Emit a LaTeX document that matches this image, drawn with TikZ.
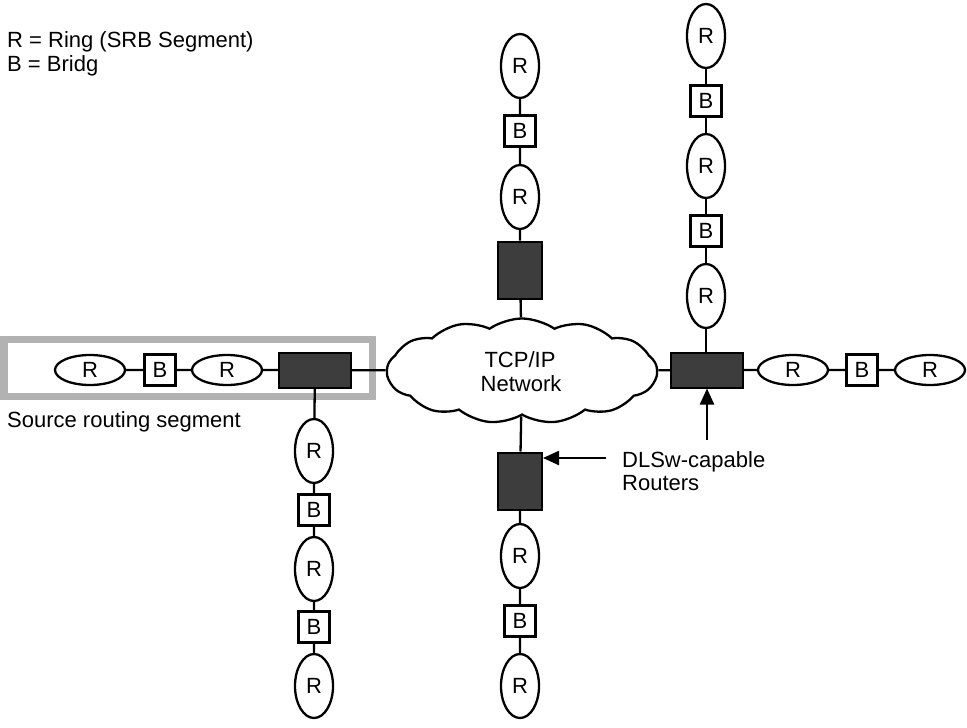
\documentclass[tikz,border=0pt]{standalone}
\usepackage{fontspec}
\setmainfont{Liberation Sans}
\usetikzlibrary{shapes.geometric,shapes.symbols,arrows.meta}
\begin{document}
\begin{tikzpicture}[x=1pt,y=-1pt,
  every node/.style={font=\fontsize{22}{25}\selectfont},
  vring/.style={ellipse,draw,line width=2.3pt,minimum width=38pt,minimum height=64pt,inner sep=0pt},
  hring/.style={ellipse,draw,line width=2.3pt,minimum width=70pt,minimum height=30pt,inner sep=0pt},
  bridge/.style={rectangle,draw,line width=2.3pt,minimum width=31pt,minimum height=31pt,inner sep=0pt},
  hrouter/.style={rectangle,draw,line width=2pt,fill=black!76,minimum width=72pt,minimum height=35pt,inner sep=0pt},
  vrouter/.style={rectangle,draw,line width=2pt,fill=black!76,minimum width=44pt,minimum height=57pt,inner sep=0pt},
  link/.style={line width=2.3pt},
  pointer/.style={line width=2.3pt,-{Triangle[length=16pt,width=14pt]}},
  label/.style={anchor=base west,inner sep=0pt}]
\useasboundingbox (0,0) rectangle (967,728);

% legend
\node[label] (leg1) at (7,47) {R = Ring (SRB Segment)};
\node[label] (leg2) at (7,71) {B = Bridg};

% source routing segment frame
\node[draw=gray!60,line width=7pt,minimum width=368pt,minimum height=57pt,inner sep=0pt] (frame) at (188,367.5) {};
\node[label] (srs) at (7,427) {Source routing segment};

% cloud
\node[cloud,draw,line width=2.3pt,cloud puffs=13,cloud puff arc=70,aspect=2.6,
      minimum width=270pt,minimum height=105pt,inner sep=0pt] (net) at (522,371) {};
\node[anchor=base,inner sep=0pt] (net1) at (520,367) {TCP/IP};
\node[anchor=base,inner sep=0pt] (net2) at (521,391) {Network};

% top column
\node[vring] (t1) at (520,66) {R};
\node[bridge] (t2) at (520,131) {B};
\node[vring] (t3) at (520,197) {R};
\node[vrouter] (trt) at (520,270) {};

% bottom column
\node[vrouter] (brt) at (520,481) {};
\node[vring] (b1) at (520,556) {R};
\node[bridge] (b2) at (520,621) {B};
\node[vring] (b3) at (520,686) {R};

% left row
\node[hring] (l1) at (90,370) {R};
\node[bridge] (l2) at (160,370) {B};
\node[hring] (l3) at (227,370) {R};
\node[hrouter] (lrt) at (315,370) {};

% bottom-left column
\node[vring] (d1) at (314,451) {R};
\node[bridge] (d2) at (314,510) {B};
\node[vring] (d3) at (314,569) {R};
\node[bridge] (d4) at (314,627) {B};
\node[vring] (d5) at (314,686) {R};

% right row
\node[hrouter] (rrt) at (707,370) {};
\node[hring] (r1) at (793,370) {R};
\node[bridge] (r2) at (862,370) {B};
\node[hring] (r3) at (930,370) {R};

% right column
\node[vring] (u1) at (706,36) {R};
\node[bridge] (u2) at (706,101) {B};
\node[vring] (u3) at (706,166) {R};
\node[bridge] (u4) at (706,231) {B};
\node[vring] (u5) at (706,296) {R};

% labels for routers
\node[label] (dl1) at (622,467) {DLSw-capable};
\node[label] (dl2) at (622,490) {Routers};
\coordinate (pa) at (606,458);
\coordinate (pb) at (707,440);

% links
\draw[link] (t1) -- (t2) -- (t3) -- (trt) -- (net);
\draw[link] (net) -- (brt) -- (b1) -- (b2) -- (b3);
\draw[link] (l1) -- (l2) -- (l3) -- (lrt) -- (net);
\draw[link] (lrt) -- (d1) -- (d2) -- (d3) -- (d4) -- (d5);
\draw[link] (net) -- (rrt) -- (r1) -- (r2) -- (r3);
\draw[link] (u1) -- (u2) -- (u3) -- (u4) -- (u5) -- (u5 |- rrt.north);

% pointers
\draw[pointer] (pa) -- (pa -| brt.east);
\draw[pointer] (pb) -- (pb |- rrt.south);
\end{tikzpicture}
\end{document}
